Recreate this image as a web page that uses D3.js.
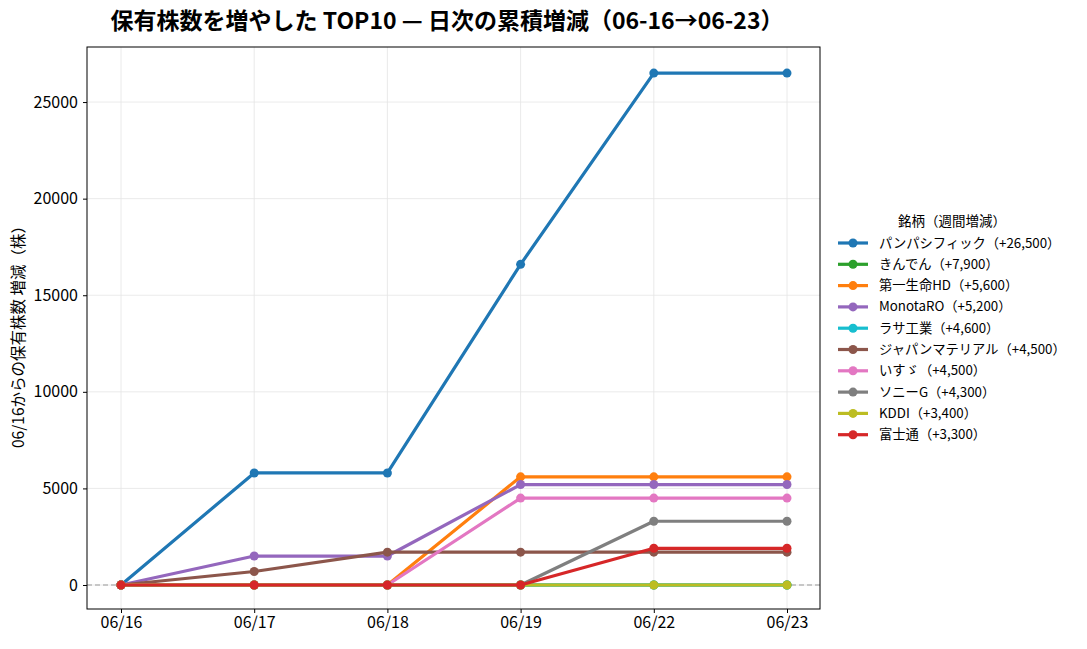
<!DOCTYPE html>
<html>
<head>
<meta charset="utf-8">
<script src="https://cdn.jsdelivr.net/npm/d3@7"></script>
<style>
  body { margin: 0; background: #fff; }
  svg { font-family: "Noto Sans CJK JP", "Noto Sans", sans-serif; }
  .axis text { font-size: 16px; fill: #000; font-family: "Noto Sans CJK JP", "Noto Sans", sans-serif; }
  .grid line { stroke: #e5e5e5; stroke-width: 0.8; }
</style>
</head>
<body>
<div id="graph"></div>
<script>
'use strict';

// dates on the x axis
let dates = ['06/16', '06/17', '06/18', '06/19', '06/22', '06/23'];
let yTicks = [0, 5000, 10000, 15000, 20000, 25000];

// series names, legend labels, colours
let names = ['パンパシフィック', 'きんでん', '第一生命HD', 'MonotaRO', 'ラサ工業',
    'ジャパンマテリアル', 'いすゞ', 'ソニーG', 'KDDI', '富士通'];
let weekly = [26500, 7900, 5600, 5200, 4600, 4500, 4500, 4300, 3400, 3300];
let colors = ['#1f77b4', '#2ca02c', '#ff7f0e', '#9467bd', '#17becf',
    '#8c564b', '#e377c2', '#7f7f7f', '#bcbd22', '#d62728'];

// cumulative change per day
let values = [
    [0, 5800, 5800, 16600, 26500, 26500],
    [0, 0, 0, 0, 0, 0],
    [0, 0, 0, 5600, 5600, 5600],
    [0, 1500, 1500, 5200, 5200, 5200],
    [0, 0, 0, 0, 0, 0],
    [0, 700, 1700, 1700, 1700, 1700],
    [0, 0, 0, 4500, 4500, 4500],
    [0, 0, 0, 0, 3300, 3300],
    [0, 0, 0, 0, 0, 0],
    [0, 0, 0, 0, 1900, 1900]
];

let W = 1087, H = 649;
let m = { left: 87, right: 820, top: 47, bottom: 609 };

let svg = d3.select('#graph').append('svg')
    .attr('width', W).attr('height', H);

let x = d3.scalePoint().domain(dates).range([121, 787]);
let y = d3.scaleLinear().domain([-1242, 27850]).range([m.bottom, m.top]);

// grid
let grid = svg.append('g').attr('class', 'grid');
grid.selectAll('.gx').data(dates).enter().append('line')
    .attr('x1', d => x(d)).attr('x2', d => x(d))
    .attr('y1', m.top).attr('y2', m.bottom);
grid.selectAll('.gy').data(yTicks).enter().append('line')
    .attr('x1', m.left).attr('x2', m.right)
    .attr('y1', d => y(d)).attr('y2', d => y(d));

// zero reference line
svg.append('line')
    .attr('x1', m.left).attr('x2', m.right)
    .attr('y1', y(0)).attr('y2', y(0))
    .attr('stroke', '#999').attr('stroke-width', 1.2)
    .attr('stroke-dasharray', '5,3');

// lines
let line = d3.line().x((d, i) => x(dates[i])).y(d => y(d));
names.forEach(function (n, k) {
    let g = svg.append('g');
    g.append('path').datum(values[k])
        .attr('d', line).attr('fill', 'none')
        .attr('stroke', colors[k]).attr('stroke-width', 3.2)
        .attr('stroke-linejoin', 'round');
    g.selectAll('circle').data(values[k]).enter().append('circle')
        .attr('cx', (d, i) => x(dates[i])).attr('cy', d => y(d))
        .attr('r', 4.5).attr('fill', colors[k]);
});

// frame
svg.append('rect')
    .attr('x', m.left).attr('y', m.top)
    .attr('width', m.right - m.left).attr('height', m.bottom - m.top)
    .attr('fill', 'none').attr('stroke', '#000').attr('stroke-width', 1);

// axes
let xAxis = svg.append('g').attr('class', 'axis')
    .attr('transform', `translate(0,${m.bottom})`)
    .call(d3.axisBottom(x).tickSize(4).tickPadding(4));
let yAxis = svg.append('g').attr('class', 'axis')
    .attr('transform', `translate(${m.left},0)`)
    .call(d3.axisLeft(y).tickValues(yTicks).tickFormat(d3.format('d')).tickSize(4).tickPadding(5));
[xAxis, yAxis].forEach(a => {
    a.attr('font-family', null);
    a.select('.domain').remove();
    a.selectAll('.tick line').attr('stroke', '#000');
});

// title + axis label
svg.append('text')
    .attr('x', 447).attr('y', 29).attr('text-anchor', 'middle')
    .attr('font-size', 23).attr('font-weight', 'bold')
    .text('保有株数を増やした TOP10 — 日次の累積増減（06-16→06-23）');
svg.append('text')
    .attr('transform', `translate(24,333) rotate(-90)`)
    .attr('text-anchor', 'middle').attr('font-size', 15.5)
    .text('06/16からの保有株数 増減（株）');

// legend
let lg = svg.append('g').attr('transform', 'translate(838,221)');
lg.append('text').attr('x', 114).attr('y', 5).attr('text-anchor', 'middle')
    .attr('font-size', 13.5).text('銘柄（週間増減）');
names.forEach(function (n, k) {
    let yy = 22 + k * 21.3;
    lg.append('line').attr('x1', 0).attr('x2', 30).attr('y1', yy).attr('y2', yy)
        .attr('stroke', colors[k]).attr('stroke-width', 3.2);
    lg.append('circle').attr('cx', 15).attr('cy', yy).attr('r', 4.5).attr('fill', colors[k]);
    lg.append('text').attr('x', 41).attr('y', yy + 4.5).attr('font-size', 13.3)
        .text(`${n}（+${d3.format(',')(weekly[k])}）`);
});
</script>
</body>
</html>
